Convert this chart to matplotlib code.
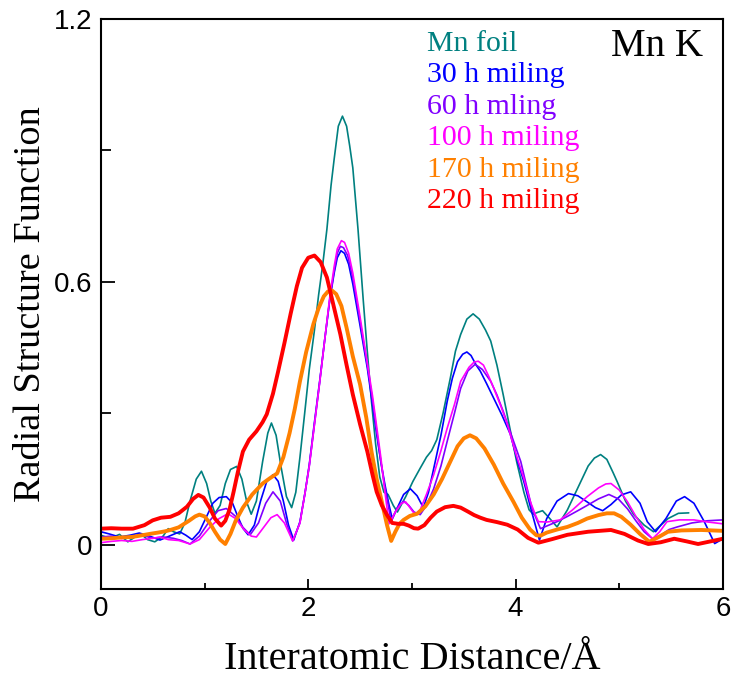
import matplotlib
matplotlib.use("Agg")
import matplotlib.pyplot as plt
from matplotlib.ticker import MultipleLocator

# ---- data ----
r_foil = [0.00, 0.05, 0.10, 0.14, 0.18, 0.22, 0.26, 0.31, 0.37, 0.41, 0.45, 0.52, 0.60, 0.65, 0.70,
          0.76, 0.81, 0.86, 0.92, 0.97, 1.02, 1.06, 1.10, 1.15, 1.20, 1.25, 1.31, 1.36, 1.41, 1.45,
          1.50, 1.56, 1.61, 1.645, 1.69, 1.74, 1.79, 1.84, 1.88, 1.92, 1.97, 2.01, 2.06, 2.10, 2.14,
          2.18, 2.22, 2.25, 2.29, 2.33, 2.37, 2.40, 2.43, 2.48, 2.53, 2.57, 2.61, 2.65, 2.69, 2.73,
          2.77, 2.82, 2.86, 2.94, 3.01, 3.08, 3.14, 3.19, 3.24, 3.30, 3.37, 3.42, 3.47, 3.53, 3.59,
          3.65, 3.71, 3.76, 3.82, 3.88, 3.95, 4.01, 4.08, 4.13, 4.17, 4.21, 4.26, 4.33, 4.40, 4.50,
          4.60, 4.70, 4.76, 4.82, 4.88, 4.94, 4.98, 5.06, 5.14, 5.24, 5.33, 5.40, 5.47, 5.57, 5.67]
rsf_foil = [0.022, 0.018, 0.015, 0.020, 0.024, 0.015, 0.007, 0.015, 0.025, 0.020, 0.012, 0.007, 0.020, 0.037, 0.030,
            0.025, 0.050, 0.100, 0.150, 0.168, 0.140, 0.100, 0.072, 0.090, 0.140, 0.172, 0.179, 0.150, 0.095, 0.070,
            0.100, 0.190, 0.255, 0.278, 0.250, 0.175, 0.110, 0.085, 0.120, 0.200, 0.310, 0.400, 0.490, 0.570, 0.640,
            0.720, 0.820, 0.880, 0.955, 0.978, 0.955, 0.910, 0.860, 0.720, 0.560, 0.440, 0.327, 0.230, 0.155, 0.120,
            0.115, 0.090, 0.075, 0.110, 0.145, 0.175, 0.200, 0.215, 0.240, 0.300, 0.380, 0.442, 0.480, 0.515, 0.527,
            0.515, 0.490, 0.465, 0.410, 0.343, 0.260, 0.190, 0.120, 0.080, 0.070, 0.074, 0.078, 0.060, 0.041, 0.080,
            0.130, 0.180, 0.198, 0.206, 0.195, 0.165, 0.144, 0.100, 0.069, 0.045, 0.030, 0.045, 0.060, 0.072, 0.073]

r_30h = [0.00, 0.08, 0.18, 0.28, 0.37, 0.47, 0.57, 0.66, 0.76, 0.82, 0.88, 0.95, 1.03, 1.08, 1.14,
         1.21, 1.27, 1.32, 1.37, 1.42, 1.48, 1.54, 1.60, 1.66, 1.71, 1.76, 1.81, 1.86, 1.92, 1.97,
         2.01, 2.06, 2.11, 2.16, 2.21, 2.25, 2.28, 2.315, 2.35, 2.39, 2.43, 2.50, 2.57, 2.62, 2.66,
         2.70, 2.74, 2.78, 2.81, 2.86, 2.92, 2.985, 3.05, 3.11, 3.16, 3.21, 3.28, 3.34, 3.39, 3.44,
         3.49, 3.53, 3.57, 3.62, 3.66, 3.72, 3.79, 3.87, 3.95, 4.02, 4.08, 4.15, 4.23, 4.30, 4.40,
         4.51, 4.60, 4.69, 4.77, 4.84, 4.92, 5.02, 5.11, 5.20, 5.27, 5.35, 5.45, 5.55, 5.63, 5.72,
         5.82, 5.92, 6.00]
rsf_30h = [0.030, 0.025, 0.018, 0.022, 0.027, 0.020, 0.011, 0.020, 0.030, 0.022, 0.012, 0.030, 0.070, 0.095, 0.108,
           0.110, 0.095, 0.065, 0.038, 0.023, 0.045, 0.100, 0.145, 0.160, 0.145, 0.100, 0.045, 0.011, 0.053, 0.120,
           0.183, 0.280, 0.373, 0.470, 0.563, 0.620, 0.655, 0.671, 0.665, 0.640, 0.595, 0.500, 0.403, 0.320, 0.252,
           0.190, 0.137, 0.090, 0.060, 0.085, 0.115, 0.128, 0.112, 0.085, 0.120, 0.174, 0.250, 0.327, 0.380, 0.418,
           0.435, 0.440, 0.432, 0.410, 0.396, 0.368, 0.334, 0.295, 0.252, 0.190, 0.144, 0.080, 0.011, 0.060, 0.100,
           0.117, 0.112, 0.098, 0.085, 0.078, 0.092, 0.114, 0.121, 0.095, 0.053, 0.030, 0.060, 0.100, 0.110, 0.095,
           0.053, 0.003, 0.014]

r_60h = [0.00, 0.10, 0.20, 0.30, 0.40, 0.50, 0.60, 0.70, 0.78, 0.86, 0.95, 1.05, 1.13, 1.21, 1.30,
         1.37, 1.44, 1.52, 1.59, 1.66, 1.73, 1.79, 1.85, 1.92, 1.97, 2.01, 2.06, 2.11, 2.16, 2.21,
         2.25, 2.28, 2.31, 2.34, 2.38, 2.43, 2.50, 2.57, 2.62, 2.66, 2.70, 2.74, 2.78, 2.80, 2.86,
         2.92, 2.97, 3.02, 3.08, 3.14, 3.21, 3.28, 3.34, 3.41, 3.47, 3.54, 3.61, 3.68, 3.76, 3.82,
         3.88, 3.96, 4.05, 4.10, 4.16, 4.24, 4.32, 4.40, 4.50, 4.60, 4.69, 4.80, 4.90, 4.99, 5.08,
         5.16, 5.24, 5.32, 5.40, 5.48, 5.56, 5.70, 5.85, 6.00]
rsf_60h = [0.018, 0.020, 0.015, 0.018, 0.022, 0.015, 0.018, 0.015, 0.010, 0.002, 0.020, 0.055, 0.078, 0.083, 0.065,
           0.040, 0.023, 0.050, 0.095, 0.121, 0.100, 0.050, 0.009, 0.050, 0.120, 0.180, 0.275, 0.370, 0.470, 0.565,
           0.625, 0.665, 0.681, 0.678, 0.660, 0.610, 0.510, 0.410, 0.330, 0.260, 0.190, 0.130, 0.080, 0.053, 0.085,
           0.100, 0.090, 0.075, 0.069, 0.090, 0.128, 0.180, 0.236, 0.300, 0.357, 0.397, 0.412, 0.400, 0.373, 0.342,
           0.305, 0.250, 0.190, 0.140, 0.082, 0.037, 0.045, 0.053, 0.065, 0.078, 0.090, 0.105, 0.115, 0.105, 0.082,
           0.055, 0.030, 0.014, 0.022, 0.035, 0.041, 0.050, 0.055, 0.057]

r_100h = [0.00, 0.10, 0.20, 0.30, 0.40, 0.50, 0.57, 0.65, 0.75, 0.86, 0.95, 1.05, 1.14, 1.225, 1.30,
          1.38, 1.45, 1.50, 1.57, 1.64, 1.70, 1.77, 1.85, 1.92, 1.97, 2.01, 2.06, 2.11, 2.16, 2.21,
          2.25, 2.28, 2.32, 2.35, 2.39, 2.43, 2.50, 2.57, 2.62, 2.66, 2.70, 2.74, 2.78, 2.84, 2.90,
          2.94, 2.99, 3.03, 3.08, 3.14, 3.21, 3.28, 3.34, 3.41, 3.47, 3.55, 3.60, 3.64, 3.69, 3.74,
          3.79, 3.86, 3.92, 4.00, 4.08, 4.14, 4.19, 4.22, 4.30, 4.43, 4.55, 4.69, 4.80, 4.87, 4.92,
          5.00, 5.08, 5.16, 5.24, 5.32, 5.39, 5.46, 5.58, 5.72, 5.86, 6.00]
rsf_100h = [0.005, 0.008, 0.010, 0.008, 0.012, 0.015, 0.018, 0.012, 0.010, 0.002, 0.012, 0.040, 0.060, 0.071, 0.060,
            0.035, 0.020, 0.018, 0.040, 0.062, 0.069, 0.050, 0.009, 0.050, 0.120, 0.180, 0.275, 0.370, 0.470, 0.570,
            0.635, 0.675, 0.694, 0.690, 0.665, 0.620, 0.520, 0.415, 0.340, 0.270, 0.200, 0.120, 0.048, 0.075, 0.095,
            0.098, 0.082, 0.069, 0.080, 0.115, 0.160, 0.215, 0.266, 0.320, 0.373, 0.405, 0.417, 0.419, 0.410, 0.385,
            0.357, 0.315, 0.275, 0.210, 0.151, 0.100, 0.069, 0.053, 0.052, 0.057, 0.080, 0.110, 0.130, 0.139, 0.140,
            0.125, 0.098, 0.065, 0.035, 0.014, 0.030, 0.053, 0.057, 0.057, 0.052, 0.048]

r_170h = [0.00, 0.10, 0.20, 0.30, 0.40, 0.47, 0.55, 0.62, 0.67, 0.75, 0.85, 0.91, 0.95, 1.00, 1.05,
          1.10, 1.15, 1.20, 1.25, 1.30, 1.37, 1.46, 1.56, 1.63, 1.70, 1.76, 1.82, 1.87, 1.92, 1.98,
          2.05, 2.10, 2.15, 2.19, 2.23, 2.27, 2.32, 2.37, 2.43, 2.50, 2.56, 2.61, 2.66, 2.71, 2.76,
          2.80, 2.84, 2.88, 2.92, 2.98, 3.05, 3.13, 3.21, 3.29, 3.37, 3.44, 3.50, 3.56, 3.62, 3.70,
          3.79, 3.88, 3.98, 4.06, 4.14, 4.20, 4.24, 4.30, 4.40, 4.50, 4.60, 4.69, 4.80, 4.88, 4.95,
          5.02, 5.11, 5.20, 5.29, 5.38, 5.47, 5.60, 5.79, 6.00]
rsf_170h = [0.014, 0.015, 0.017, 0.018, 0.022, 0.025, 0.028, 0.031, 0.034, 0.040, 0.055, 0.065, 0.069, 0.065, 0.050,
            0.030, 0.012, 0.002, 0.025, 0.055, 0.085, 0.115, 0.140, 0.152, 0.163, 0.200, 0.255, 0.310, 0.373, 0.440,
            0.504, 0.540, 0.567, 0.578, 0.580, 0.572, 0.545, 0.495, 0.430, 0.366, 0.290, 0.213, 0.150, 0.098, 0.045,
            0.009, 0.030, 0.048, 0.057, 0.066, 0.071, 0.088, 0.115, 0.150, 0.190, 0.225, 0.243, 0.250, 0.243, 0.220,
            0.183, 0.140, 0.098, 0.062, 0.035, 0.022, 0.021, 0.028, 0.035, 0.041, 0.050, 0.060, 0.068, 0.072, 0.072,
            0.064, 0.046, 0.025, 0.007, 0.018, 0.030, 0.033, 0.034, 0.032]

r_220h = [0.00, 0.10, 0.20, 0.31, 0.42, 0.50, 0.58, 0.67, 0.75, 0.83, 0.89, 0.94, 0.99, 1.05, 1.10,
          1.16, 1.20, 1.24, 1.28, 1.32, 1.37, 1.43, 1.50, 1.56, 1.60, 1.66, 1.71, 1.77, 1.83, 1.89,
          1.94, 2.00, 2.06, 2.12, 2.18, 2.24, 2.31, 2.37, 2.43, 2.50, 2.57, 2.62, 2.66, 2.71, 2.76,
          2.81, 2.87, 2.92, 2.97, 3.02, 3.06, 3.12, 3.18, 3.24, 3.32, 3.40, 3.47, 3.54, 3.60, 3.66,
          3.72, 3.82, 3.92, 4.02, 4.12, 4.22, 4.35, 4.50, 4.70, 4.92, 5.05, 5.18, 5.28, 5.40, 5.53,
          5.65, 5.76, 5.88, 6.00]
rsf_220h = [0.037, 0.038, 0.037, 0.037, 0.045, 0.056, 0.062, 0.064, 0.072, 0.087, 0.105, 0.114, 0.108, 0.085, 0.060,
            0.044, 0.055, 0.080, 0.121, 0.165, 0.213, 0.240, 0.259, 0.280, 0.298, 0.345, 0.396, 0.460, 0.527, 0.590,
            0.632, 0.655, 0.660, 0.645, 0.610, 0.550, 0.480, 0.410, 0.343, 0.275, 0.213, 0.160, 0.121, 0.090, 0.068,
            0.050, 0.048, 0.048, 0.044, 0.038, 0.037, 0.045, 0.062, 0.076, 0.086, 0.089, 0.085, 0.076, 0.068, 0.062,
            0.057, 0.052, 0.046, 0.035, 0.016, 0.005, 0.013, 0.023, 0.030, 0.034, 0.025, 0.010, 0.002, 0.006, 0.014,
            0.008, 0.002, 0.008, 0.014]

labels = ["Mn foil", "30 h miling", "60 h mling", "100 h miling", "170 h miling", "220 h miling"]
colors = ["#008080", "#0000ff", "#8000ff", "#ff00ff", "#ff8000", "#ff0000"]
widths = [1.2, 1.2, 1.2, 1.2, 2.8, 2.8]
series = [(r_foil, rsf_foil), (r_30h, rsf_30h), (r_60h, rsf_60h),
          (r_100h, rsf_100h), (r_170h, rsf_170h), (r_220h, rsf_220h)]

serif = ["Liberation Serif", "DejaVu Serif"]
sans = ["Liberation Sans", "DejaVu Sans"]

fig = plt.figure(figsize=(7.31, 6.77), dpi=100)
ax = fig.add_axes([0.138, 0.1304, 0.851, 0.8418])

for (x, y), c, lw in zip(series, colors, widths):
    ax.plot(x, y, color=c, lw=lw, solid_joinstyle="round", solid_capstyle="round")

ax.set_xlim(0, 6)
ax.set_ylim(-0.1, 1.2)
ax.xaxis.set_major_locator(MultipleLocator(2))
ax.xaxis.set_minor_locator(MultipleLocator(1))
ax.set_yticks([0, 0.6, 1.2])
ax.set_yticklabels(["0", "0.6", "1.2"])
ax.yaxis.set_minor_locator(MultipleLocator(0.3))
ax.tick_params(which="major", direction="in", width=1.3, labelsize=20)
ax.tick_params(axis="x", which="major", length=7, pad=5)
ax.tick_params(axis="x", which="minor", direction="in", length=4, width=1.3)
ax.tick_params(axis="y", which="major", length=10, pad=6)
ax.tick_params(axis="y", which="minor", direction="in", length=7, width=1.3)
for lab in ax.get_xticklabels() + ax.get_yticklabels():
    lab.set_family(sans)
for s in ax.spines.values():
    s.set_linewidth(1.5)

ax.set_xlabel("Interatomic Distance/Å", family=serif, fontsize=29)
ax.set_ylabel("Radial Structure Function", family=serif, fontsize=27.5)
ax.xaxis.set_label_coords(0.5, -0.092)
ax.yaxis.set_label_coords(-0.085, 0.5)

y0 = 0.956
for i, (lab, c) in enumerate(zip(labels, colors)):
    ax.text(0.524, y0 - i * 0.0552, lab, color=c, family=serif, fontsize=21.5,
            transform=ax.transAxes, va="center", ha="left")
ax.text(0.968, 0.951, "Mn K", color="black", family=serif, fontsize=28,
        transform=ax.transAxes, va="center", ha="right")

fig.savefig("out.png", dpi=100)
